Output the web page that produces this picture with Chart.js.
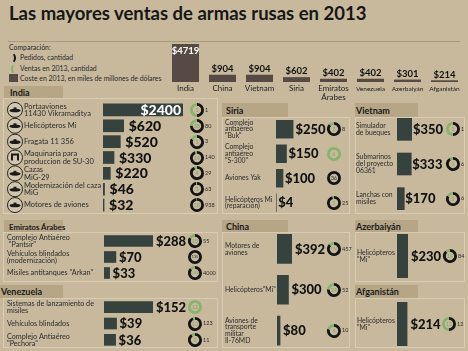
<!DOCTYPE html>
<html>
<head>
<meta charset="utf-8">
<script src="https://cdn.jsdelivr.net/npm/chart.js@4.4.1/dist/chart.umd.min.js"></script>
<style>
  html, body { margin: 0; padding: 0; background: #c8b99d; }
  #page { position: relative; width: 468px; height: 351px; overflow: hidden; background: #c8b99d; font-family: Lato, "Open Sans", sans-serif; color: #1e1e1e; }
  #page canvas { position: absolute; }
  .title { position: absolute; left: 9px; top: 2px; font-size: 18.5px; font-weight: 700; white-space: nowrap; color: #161616; }
  .rule { position: absolute; left: 8px; top: 41px; width: 452px; height: 1px; background: #a99a7c; }
  .leg { position: absolute; font-size: 6.9px; line-height: 10px; white-space: nowrap; color: #2a2a2a; }
  .tab { position: absolute; background: #b7a685; font-weight: 700; white-space: nowrap; color: #1a1a1a; box-sizing: border-box; }
  .box { position: absolute; border: 1px solid #d8ccb4; box-sizing: border-box; }
</style>
</head>
<body>
<div id="page">
  <div class="title">Las mayores ventas de armas rusas en 2013</div>
  <div class="rule"></div>

  <div class="leg" style="left:9px;top:42px">Comparación:</div>
  <div style="position:absolute;left:5px;top:52px;width:7px;height:8px;border:2px solid transparent;border-right-color:#111;border-radius:50%"></div>
  <div class="leg" style="left:20px;top:52px">Pedidos, cantidad</div>
  <div style="position:absolute;left:11px;top:63px;width:7px;height:8px;border:2px solid transparent;border-left-color:#84b56c;border-radius:50%"></div>
  <div class="leg" style="left:20px;top:63px">Ventas en 2013, cantidad</div>
  <div style="position:absolute;left:9px;top:74px;width:9px;height:8px;background:#574a45"></div>
  <div class="leg" style="left:20px;top:73px">Coste en 2013, en miles de millones de dólares</div>

  <div class="box" style="left:3px;top:98px;width:215px;height:116px"></div>
  <div class="box" style="left:3px;top:232px;width:215px;height:50px"></div>
  <div class="box" style="left:3px;top:298px;width:215px;height:50px"></div>
  <div class="box" style="left:222px;top:117px;width:128px;height:97px"></div>
  <div class="box" style="left:355px;top:117px;width:110px;height:97px"></div>
  <div class="box" style="left:222px;top:232px;width:128px;height:116px"></div>
  <div class="box" style="left:355px;top:232px;width:110px;height:50px"></div>
  <div class="box" style="left:355px;top:298px;width:110px;height:50px"></div>

  <div class="tab" style="left:4px;top:86px;width:59px;height:12px;font-size:9px;padding:1px 0 0 6px">India</div>
  <div class="tab" style="left:4px;top:220px;width:59px;height:12px;font-size:7.8px;padding:2px 0 0 5px">Emiratos Árabes</div>
  <div class="tab" style="left:0px;top:285px;width:63px;height:13px;font-size:9px;padding:1px 0 0 1px">Venezuela</div>
  <div class="tab" style="left:222px;top:103px;width:66px;height:14px;font-size:9px;padding:2px 0 0 4px">Siria</div>
  <div class="tab" style="left:355px;top:103px;width:63px;height:14px;font-size:9px;padding:2px 0 0 1px">Vietnam</div>
  <div class="tab" style="left:222px;top:220px;width:66px;height:12px;font-size:9px;padding:1px 0 0 4px">China</div>
  <div class="tab" style="left:355px;top:220px;width:63px;height:12px;font-size:9px;padding:1px 0 0 1px">Azerbaiyán</div>
  <div class="tab" style="left:355px;top:285px;width:63px;height:13px;font-size:9px;padding:1px 0 0 1px">Afganistán</div>
</div>

<script>
// totales por país (miles de millones de dólares)
const countries = ['India', 'China', 'Vietnam', 'Siria', ['Emiratos', 'Árabes'], 'Venezuela', 'Azerbaiyán', 'Afganistán'];
const countryCost = [4719, 904, 904, 602, 402, 402, 301, 214];

// India
const indiaNames = [['Portaaviones', '11430 Vikramaditya'], 'Helicópteros Mi', 'Fragata 11 356', ['Maquinaria para', 'produccion de SU-30'], ['Cazas', 'MiG-29'], ['Modernización del caza', 'MiG'], 'Motores de aviones'];
const indiaCost = [2400, 620, 520, 330, 220, 46, 32];
const indiaSold = [1, 38, 1, 14, 4, 3, 18];
const indiaOrdered = [1, 80, 3, 140, 29, 63, 938];

// Emiratos Árabes
const uaeNames = [['Complejo Antiaéreo', ' "Pantsir"'], ['Vehículos blindados', '(modernización)'], 'Misiles antitanques "Arkan"'];
const uaeCost = [288, 70, 33];
const uaeSold = [18, null, 1000];
const uaeOrdered = [55, 135, 4000];

// Venezuela
const venNames = [['Sistemas de lanzamiento de', 'misiles'], 'Vehículos blindados', ['Complejo Antiaéreo', '"Pechora"']];
const venCost = [152, 39, 36];
const venSold = [12, 13, 2];
const venOrdered = [null, 123, 11];

// Siria
const syrNames = [['Complejo', 'antiaéreo', '"Buk"'], ['Complejo', 'antiaéreo', '"S-300"'], 'Aviones Yak', ['Helicópteros Mi', '(reparación)']];
const syrCost = [250, 150, 100, 4];
const syrSold = [2, 6, null, 2];
const syrOrdered = [8, null, 36, 25];

// Vietnam
const vnNames = [['Simulador', 'de bueques'], ['Submarinos', 'del proyecto', '06361'], ['Lanchas con', 'misiles']];
const vnCost = [350, 333, 170];
const vnSold = [1, 1, 2];
const vnOrdered = [1, 6, 6];

// China
const cnNames = [['Motores de', 'aviones'], 'Helicópteros"Mi"', ['Aviones de', 'transporte', 'militar', 'Il-76MD']];
const cnCost = [392, 300, 80];
const cnSold = [114, 24, 4];
const cnOrdered = [457, 52, 10];

// Azerbaiyán y Afganistán
const azNames = [['Helicópteros', '"Mi"']];
const azCost = [230];
const azSold = [19];
const azOrdered = [84];
const afNames = [['Helicópteros', '"Mi"']];
const afCost = [214];
const afSold = [12];
const afOrdered = [12];

const W = 468, H = 351;
const DARK = '#36423e';
const BROWN = '#574a45';
const GREEN = '#84b56c';
const FONT = 'Lato, "Open Sans", sans-serif';

const page = document.getElementById('page');

const addCanvas = (x, y, w, h) => {
  const c = document.createElement('canvas');
  c.width = w;
  c.height = h;
  c.style.left = x + 'px';
  c.style.top = y + 'px';
  c.style.width = w + 'px';
  c.style.height = h + 'px';
  page.appendChild(c);
  return c;
};

const baseOpts = {
  responsive: false,
  animation: false,
  events: [],
  devicePixelRatio: 1,
};

// Top chart: total per country
new Chart(addCanvas(0, 0, W, H), {
  type: 'bar',
  data: {
    labels: countries,
    datasets: [{ data: countryCost, backgroundColor: BROWN, barPercentage: 0.73, categoryPercentage: 1 }]
  },
  options: {
    ...baseOpts,
    layout: { padding: { left: 167, right: W - 463, top: 44, bottom: H - 82 } },
    scales: {
      x: { display: false },
      y: { display: false, min: 0, max: Math.max(...countryCost) }
    },
    plugins: { legend: { display: false }, tooltip: { enabled: false } }
  },
  plugins: [{
    id: 'topLabels',
    afterDatasetsDraw(chart) {
      const ctx = chart.ctx;
      const xs = chart.scales.x, ys = chart.scales.y;
      ctx.save();
      ctx.textAlign = 'center';
      countryCost.forEach((v, i) => {
        const x = xs.getPixelForValue(i);
        const y = ys.getPixelForValue(v);
        ctx.font = `700 9.5px ${FONT}`;
        if (v === Math.max(...countryCost)) {
          ctx.fillStyle = '#fff';
          ctx.textBaseline = 'top';
          ctx.fillText('$' + v, x, y + 2);
        } else {
          ctx.fillStyle = '#111';
          ctx.textBaseline = 'bottom';
          ctx.fillText('$' + v, x, y - 1);
        }
        const lines = Array.isArray(countries[i]) ? countries[i] : [countries[i]];
        const size = i >= 5 ? 6.5 : 8;
        ctx.font = `400 ${size}px ${FONT}`;
        ctx.fillStyle = '#222';
        ctx.textBaseline = 'middle';
        lines.forEach((t, k) => ctx.fillText(t, x, 88.5 + k * 9));
      });
      ctx.restore();
    }
  }]
});

// panel layouts
const panels = [
  { names: indiaNames, cost: indiaCost, sold: indiaSold, ordered: indiaOrdered,
    barX: 103, barW: 80, top: 102, bottom: 213, thick: 12, nameX: 24, nameSize: 7.5, valSize: 14, gap: 5, donutX: 197, icons: true, inside: true },
  { names: uaeNames, cost: uaeCost, sold: uaeSold, ordered: uaeOrdered,
    barX: 104, barW: 49, top: 233, bottom: 281, thick: 11, nameX: 7, nameSize: 7.2, valSize: 13, gap: 3, donutX: 195 },
  { names: venNames, cost: venCost, sold: venSold, ordered: venOrdered,
    barX: 104, barW: 49, top: 299, bottom: 348, thick: 11, nameX: 7, nameSize: 7.2, valSize: 13, gap: 3, donutX: 195 },
  { names: syrNames, cost: syrCost, sold: syrSold, ordered: syrOrdered,
    barX: 276, barW: 17.5, top: 117, bottom: 215, thick: 18, nameX: 225, nameSize: 6.8, valSize: 13, gap: 2, donutX: 334 },
  { names: vnNames, cost: vnCost, sold: vnSold, ordered: vnOrdered,
    barX: 397, barW: 15, top: 112, bottom: 216, thick: 22, nameX: 356, nameSize: 6.8, valSize: 13, gap: 1, donutX: 453 },
  { names: cnNames, cost: cnCost, sold: cnSold, ordered: cnOrdered,
    barX: 277, barW: 15, top: 228.5, bottom: 351.5, thick: 29, nameX: 225, nameSize: 6.8, valSize: 13, gap: 3, donutX: 334 },
  { names: azNames, cost: azCost, sold: azSold, ordered: azOrdered,
    barX: 397, barW: 11, top: 234, bottom: 278, thick: 44, nameX: 357, nameSize: 6.8, valSize: 13, gap: 3, donutX: 450 },
  { names: afNames, cost: afCost, sold: afSold, ordered: afOrdered,
    barX: 397, barW: 10.5, top: 302, bottom: 346, thick: 44, nameX: 357, nameSize: 6.8, valSize: 13, gap: 3, donutX: 449 }
];

// small ring: black = pedidos, green = share sold (on the left half)
const ring = (cx, cy, sold, ordered) => {
  let green, inner, innerColor;
  if (ordered == null) { green = 1; inner = sold; innerColor = '#7ea868'; }
  else if (sold == null) { green = 0; inner = ordered; innerColor = '#222'; }
  else { green = sold / ordered / 2; inner = sold; innerColor = '#7ea868'; }
  new Chart(addCanvas(cx - 7, cy - 7, 14, 14), {
    type: 'doughnut',
    data: { datasets: [{ data: [1 - green, green], backgroundColor: ['#141414', GREEN], borderWidth: 0 }] },
    options: {
      ...baseOpts,
      cutout: '60%',
      plugins: { legend: { display: false }, tooltip: { enabled: false } }
    },
    plugins: [{
      id: 'inner',
      afterDraw(chart) {
        const ctx = chart.ctx;
        const t = String(inner);
        ctx.save();
        ctx.font = `400 ${t.length > 2 ? 3.6 : 5}px ${FONT}`;
        ctx.fillStyle = innerColor;
        ctx.textAlign = 'center';
        ctx.textBaseline = 'middle';
        ctx.fillText(t, 7, 7.3);
        ctx.restore();
      }
    }]
  });
};

const drawIcon = (ctx, x, y, k) => {
  ctx.save();
  ctx.strokeStyle = '#222';
  ctx.lineWidth = 1;
  ctx.beginPath();
  ctx.arc(x, y, 7.5, 0, Math.PI * 2);
  ctx.fillStyle = '#d3c6ac';
  ctx.fill();
  ctx.stroke();
  ctx.fillStyle = '#1b1b1b';
  ctx.beginPath();
  if (k === 3) {
    ctx.fillRect(x - 4, y - 4, 8, 2);
    ctx.fillRect(x - 4, y - 3, 2, 6);
    ctx.fillRect(x + 2, y - 3, 2, 6);
  } else {
    ctx.ellipse(x, y + 0.5, 5.5, 1.8, 0, 0, Math.PI * 2);
    ctx.fill();
    ctx.fillRect(x - 1.5, y - 2.5, 3, 2);
  }
  ctx.restore();
};

panels.forEach((p) => {
  const chart = new Chart(addCanvas(0, 0, W, H), {
    type: 'bar',
    data: {
      labels: p.names,
      datasets: [{ data: p.cost, backgroundColor: DARK, barThickness: p.thick }]
    },
    options: {
      ...baseOpts,
      indexAxis: 'y',
      layout: { padding: { left: p.barX, right: W - p.barX - p.barW, top: p.top, bottom: H - p.bottom } },
      scales: {
        x: { display: false, min: 0, max: Math.max(...p.cost) },
        y: { display: false }
      },
      plugins: { legend: { display: false }, tooltip: { enabled: false } }
    },
    plugins: [{
      id: 'panelLabels',
      afterDatasetsDraw(c) {
        const ctx = c.ctx;
        const xs = c.scales.x, ys = c.scales.y;
        ctx.save();
        p.cost.forEach((v, i) => {
          const y = ys.getPixelForValue(i);
          const xEnd = xs.getPixelForValue(v);
          // names
          const lines = Array.isArray(p.names[i]) ? p.names[i] : [p.names[i]];
          const lh = p.nameSize;
          ctx.font = `400 ${p.nameSize}px ${FONT}`;
          ctx.fillStyle = '#2b2b2b';
          ctx.textAlign = 'left';
          ctx.textBaseline = 'middle';
          lines.forEach((t, k) => ctx.fillText(t, p.nameX, y - (lines.length - 1) * lh / 2 + k * lh));
          if (p.icons) drawIcon(ctx, 15, y, i);
          // value
          ctx.font = `900 ${p.valSize}px ${FONT}`;
          if (p.inside && v === Math.max(...p.cost)) {
            ctx.fillStyle = '#fff';
            ctx.textAlign = 'right';
            ctx.fillText('$' + v, xEnd - 2, y + 0.5);
          } else {
            ctx.fillStyle = '#111';
            ctx.textAlign = 'left';
            ctx.fillText('$' + v, xEnd + p.gap, y + 0.5);
          }
          // pedidos next to ring
          if (p.sold[i] != null && p.ordered[i] != null) {
            ctx.font = `400 5.5px ${FONT}`;
            ctx.fillStyle = '#2b2b2b';
            ctx.textAlign = 'left';
            ctx.fillText(String(p.ordered[i]), p.donutX + 8, y);
          }
        });
        ctx.restore();
      }
    }]
  });
  p.cost.forEach((v, i) => ring(p.donutX, chart.scales.y.getPixelForValue(i), p.sold[i], p.ordered[i]));
});
</script>
</body>
</html>
